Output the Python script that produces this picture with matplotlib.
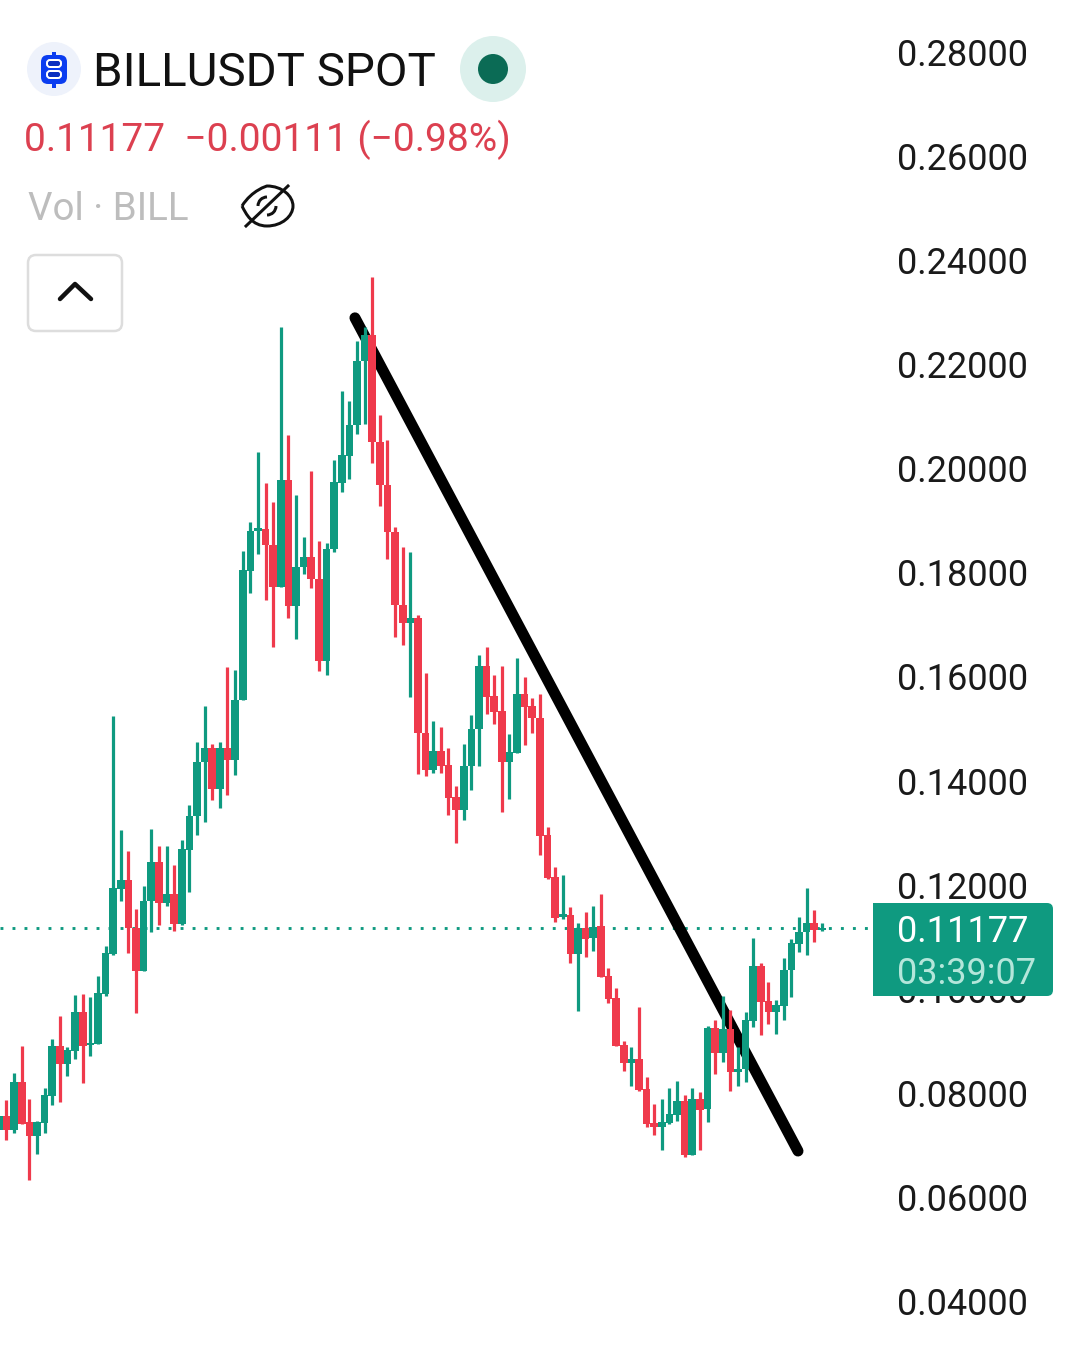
import numpy as np
import matplotlib
matplotlib.use("Agg")
import matplotlib.pyplot as plt
from matplotlib.patches import Circle, FancyBboxPatch, Rectangle, PathPatch
from matplotlib.path import Path
from matplotlib.transforms import Affine2D

opens = [.0730,.0757,.0730,.0823,.0746,.0719,.0743,.0796,.0892,.0857,.0883,.0957,.0893,.0896,.0992,.1069,.1194,.1210,.1119,.1035,
 .1170,.1245,.1167,.1184,.1126,.1268,.1333,.1438,.1464,.1386,.1464,.1441,.1557,.1805,.1882,.1885,.1854,.1773,.1980,.1738,
 .1813,.1831,.1790,.1632,.1846,.1974,.2026,.2085,.2208,.2259,.2053,.1969,.1880,.1739,.1704,.1715,.1493,.1422,.1459,.1431,
 .1370,.1345,.1429,.1500,.1622,.1564,.1535,.1438,.1455,.1568,.1545,.1523,.1297,.1216,.1139,.1144,.1068,.1118,.1099,.1122,
 .1026,.0984,.0894,.0860,.0866,.0809,.0743,.0736,.0743,.0759,.0786,.0682,.0789,.0770,.0926,.0879,.0924,.0842,.0848,.0940,
 .1046,.0978,.0957,.0969,.1037,.1088,.1110,.1129,.1115]
highs = [.0757,.0788,.0839,.0892,.0789,.0747,.0811,.0905,.0949,.0889,.0990,.0992,.0985,.1026,.1083,.1526,.1307,.1267,.1156,.1199,
 .1308,.1277,.1276,.1240,.1288,.1355,.1476,.1545,.1473,.1476,.1620,.1614,.1843,.1899,.2034,.1973,.1938,.2274,.2065,.1950,
 .1869,.1997,.1863,.1859,.2017,.2151,.2131,.2246,.2274,.2369,.2104,.2056,.1890,.1850,.1842,.1720,.1608,.1517,.1504,.1464,
 .1391,.1473,.1527,.1644,.1658,.1604,.1622,.1491,.1637,.1600,.1560,.1568,.1313,.1235,.1221,.1158,.1129,.1149,.1160,.1183,
 .1041,.1003,.0902,.0889,.0966,.0832,.0780,.0789,.0812,.0824,.0797,.0812,.0803,.0930,.0942,.0988,.0961,.0889,.0957,.1099,
 .1051,.1015,.0981,.1060,.1097,.1139,.1195,.1153,.1129]
lows = [.0689,.0711,.0724,.0742,.0634,.0684,.0725,.0778,.0785,.0834,.0867,.0821,.0873,.0896,.0987,.1067,.1171,.1071,.0956,.1035,
 .1110,.1125,.1161,.1112,.1124,.1188,.1298,.1322,.1365,.1349,.1374,.1413,.1557,.1762,.1837,.1748,.1659,.1773,.1715,.1673,
 .1798,.1771,.1612,.1604,.1842,.1957,.1981,.2067,.2087,.2013,.1930,.1827,.1678,.1663,.1563,.1414,.1411,.1416,.1417,.1336,
 .1281,.1326,.1384,.1429,.1530,.1511,.1342,.1367,.1455,.1471,.1494,.1258,.1212,.1131,.1136,.1052,.0960,.1062,.1075,.1025,
 .0974,.0892,.0844,.0815,.0806,.0737,.0721,.0692,.0742,.0748,.0678,.0682,.0691,.0745,.0838,.0861,.0806,.0815,.0823,.0928,
 .0912,.0934,.0915,.0942,.0986,.1072,.1067,.1092,.1113]
closes = [.0757,.0730,.0823,.0742,.0719,.0746,.0798,.0892,.0857,.0884,.0957,.0892,.0898,.0993,.1070,.1195,.1210,.1119,.1035,.1170,
 .1245,.1167,.1184,.1126,.1270,.1333,.1438,.1464,.1386,.1464,.1441,.1557,.1807,.1881,.1887,.1854,.1773,.1980,.1738,.1813,
 .1831,.1790,.1632,.1846,.1976,.2027,.2085,.2208,.2259,.2053,.1969,.1880,.1739,.1704,.1714,.1493,.1422,.1459,.1430,.1369,
 .1345,.1430,.1500,.1622,.1562,.1534,.1438,.1456,.1568,.1544,.1523,.1296,.1215,.1138,.1145,.1068,.1118,.1098,.1121,.1025,
 .0982,.0892,.0860,.0866,.0807,.0742,.0736,.0745,.0761,.0786,.0682,.0789,.0769,.0927,.0879,.0925,.0842,.0848,.0942,.1046,
 .0976,.0957,.0970,.1038,.1089,.1111,.1129,.1115,.1118]

y_ticks = [0.04, 0.06, 0.08, 0.10, 0.12, 0.14, 0.16, 0.18, 0.20, 0.22, 0.24, 0.26, 0.28]
last_price = 0.11177
trend_x = [46.73, 104.87]
trend_y = [0.2291, 0.0690]

GREEN = "#0F9A80"
RED = "#EF3A4C"
plt.rcParams["font.family"] = ["Roboto", "DejaVu Sans"]

fig = plt.figure(figsize=(10.8, 13.65), dpi=100, facecolor="white")
ax = fig.add_axes([0, 0, 1, 1])
ax.set_xlim(0.147, 141.88)
ax.set_ylim(0.02788, 0.29018)
for s in ax.spines.values():
    s.set_visible(False)
ax.set_xticks([])
ax.set_yticks(y_ticks)
ax.set_yticklabels([f"{v:.5f}" for v in y_ticks])
ax.yaxis.tick_right()
ax.tick_params(axis="y", length=0, pad=-131.8, labelsize=26.0, labelcolor="#1a1a1a")
for lab in ax.get_yticklabels():
    lab.set_transform(lab.get_transform() + Affine2D().translate(0, 1))

PT = 72 / 100  # points per pixel
px = Affine2D().scale(1, -1).translate(0, 1365)

o, h, l, c = map(np.array, (opens, highs, lows, closes))
idx = np.arange(len(c))
cols = [GREEN if a >= b else RED for a, b in zip(c, o)]

ax.axhline(last_price, xmax=868 / 1080, color=GREEN, lw=2.9 * PT,
           linestyle=(0, (1, 3.14)), dash_capstyle="butt", zorder=1)
ax.plot(trend_x, trend_y, color="black", lw=11 * PT, solid_capstyle="round", zorder=2)
ax.vlines(idx, l, h, colors=cols, lw=3.2 * PT, zorder=3)
ax.bar(idx, np.abs(c - o), bottom=np.minimum(o, c), width=1.0, color=cols, linewidth=0, zorder=3.1)

# price badge
ax.add_patch(FancyBboxPatch((879, 909), 168, 81, boxstyle="round,pad=6,rounding_size=6",
                            fc=GREEN, ec="none", transform=px, zorder=6))
ax.add_patch(Rectangle((873, 903), 40, 93, fc=GREEN, ec="none", transform=px, zorder=6))
ax.text(897, 932, "0.11177", transform=px, color="#FFFFFF", fontsize=26.0, va="center", ha="left", zorder=7)
ax.text(897, 974, "03:39:07", transform=px, color="#B4E6DA", fontsize=26.0, va="center", ha="left", zorder=7)

# header
ax.add_patch(Circle((54, 69), 27, fc="#EEF2FB", ec="none", transform=px, zorder=8))
ax.add_patch(FancyBboxPatch((45, 59), 18, 21, boxstyle="round,pad=4,rounding_size=7",
                            fc="#0B3DF0", ec="none", transform=px, zorder=9))
ax.add_patch(Rectangle((52, 52), 4, 36, fc="#0B3DF0", ec="none", transform=px, zorder=9))
for yy in (60.5, 71.5):
    ax.add_patch(FancyBboxPatch((47.5, yy), 13, 6, boxstyle="round,pad=0.5,rounding_size=3",
                                fc="#0B2FC0", ec="white", lw=2 * PT, transform=px, zorder=10))
ax.text(93, 73, "BILLUSDT SPOT", transform=px, color="#111111", fontsize=34.2, va="center", ha="left", zorder=8)
ax.add_patch(Circle((493, 69), 33, fc="#DCF0EC", ec="none", transform=px, zorder=8))
ax.add_patch(Circle((493, 69), 15, fc="#0B6B55", ec="none", transform=px, zorder=9))
ax.text(24.5, 140, "0.11177  \u22120.00111 (\u22120.98%)", transform=px, color="#DC4050",
        fontsize=28.0, va="center", ha="left", zorder=8)
ax.text(27.5, 209, "Vol \u00b7 BILL", transform=px, color="#BDBDBD", fontsize=27.7, va="center", ha="left", zorder=8)

# eye-off icon
eye = Path([(242, 206), (252, 190), (267, 186), (267, 186), (282, 186), (293, 196), (293, 206),
            (293, 216), (282, 226), (267, 226), (252, 226), (246, 214), (242, 206)],
           [Path.MOVETO, Path.CURVE4, Path.CURVE4, Path.CURVE4, Path.CURVE4, Path.CURVE4, Path.CURVE4,
            Path.CURVE4, Path.CURVE4, Path.CURVE4, Path.CURVE4, Path.CURVE4, Path.CURVE4])
ax.add_patch(PathPatch(eye, fc="none", ec="#111111", lw=3 * PT, transform=px, zorder=8))
pupil = Path.arc(180, 270).transformed(Affine2D().scale(9).translate(267, 206))
ax.add_patch(PathPatch(pupil, fc="none", ec="#111111", lw=3 * PT, transform=px, zorder=8))
pupil2 = Path.arc(0, 90).transformed(Affine2D().scale(9).translate(267, 206))
ax.add_patch(PathPatch(pupil2, fc="none", ec="#111111", lw=3 * PT, transform=px, zorder=8))
ax.plot([246, 288], [226, 186], color="#111111", lw=3 * PT, transform=px, zorder=9)

# collapse button
ax.add_patch(FancyBboxPatch((36, 263), 78, 60, boxstyle="round,pad=8,rounding_size=8",
                            fc="white", ec="#DDDDDD", lw=2.5 * PT, transform=px, zorder=8))
ax.plot([60, 75, 91], [299, 284, 299], color="#111111", lw=4.5 * PT, solid_capstyle="round",
        solid_joinstyle="round", transform=px, zorder=9)

fig.savefig("out.png", dpi=100, facecolor="white")
